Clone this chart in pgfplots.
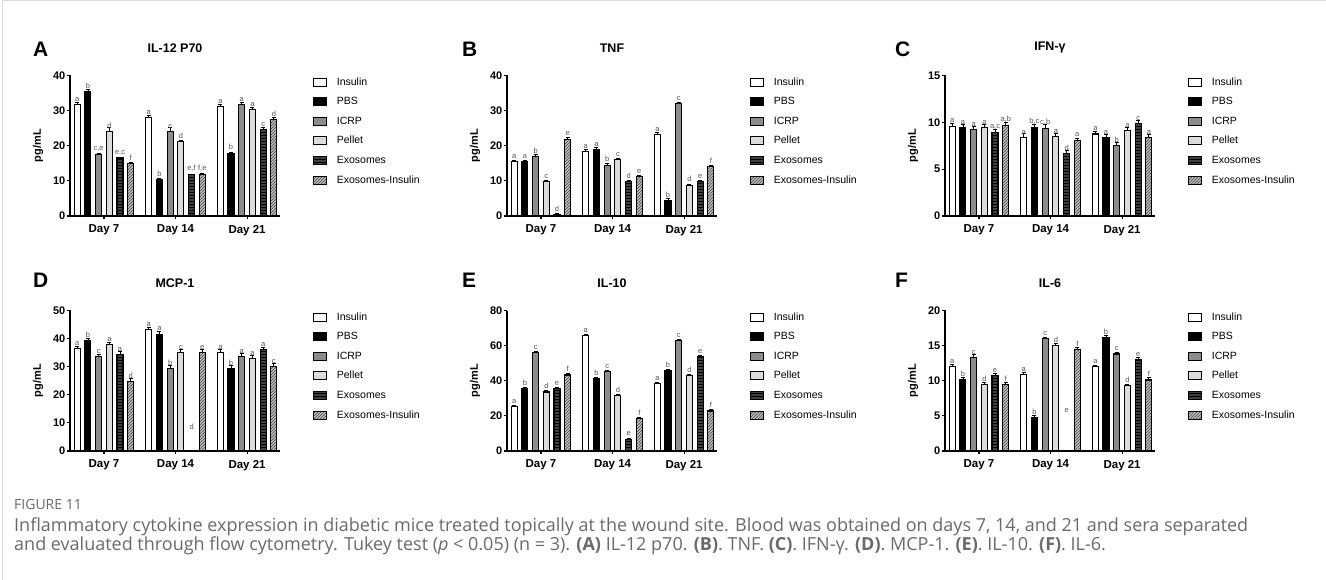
\documentclass[border=0pt]{standalone}
\usepackage{pgfplots}
\pgfplotsset{compat=1.18}
\usepackage{pgfplotstable}
\usepackage{fontspec}
\setmainfont{Liberation Sans}
\newfontfamily\capfont{Open Sans}
\usetikzlibrary{patterns}

\definecolor{icrpgray}{HTML}{8C8C8C}
\definecolor{pelgray}{HTML}{DCDCDC}
\definecolor{exogray}{HTML}{404040}
\definecolor{exigray}{HTML}{BEBEBE}
\definecolor{capgray}{HTML}{6A6A6A}
\definecolor{letgray}{HTML}{555555}

% columns: day, then value / error / letter for each of the six groups
\pgfplotstableread{
x ins insE insL pbs pbsE pbsL icrp icrpE icrpL pel pelE pelL exo exoE exoL exi exiE exiL
0 31.8 0.4 a 35.5 0.6 b 17.5 0.4 c,e 24.0 1.2 d 16.5 0.3 e,c 14.9 0.3 f
1 28.0 0.7 a 10.3 0.4 b 24.0 1.2 c 21.2 0.4 d 11.7 0.2 e,f 11.7 0.3 f,e
2 31.2 0.5 a 17.9 0.3 b 31.8 0.5 a 30.2 0.6 a 24.5 0.6 c 27.5 0.5 d
}\tabA
\pgfplotstableread{
x ins insE insL pbs pbsE pbsL icrp icrpE icrpL pel pelE pelL exo exoE exoL exi exiE exiL
0 15.5 0.4 a 15.5 0.4 a 17.0 0.4 b 9.7 0.4 c 0.5 0.2 d 21.9 0.5 e
1 18.4 0.5 a 18.9 0.5 a 14.5 0.4 b 16.0 0.5 c 9.7 0.3 d 11.2 0.4 e
2 23.3 0.5 a 4.5 0.4 b 31.9 0.5 c 8.8 0.3 d 9.7 0.3 e 14.0 0.4 f
}\tabB
\pgfplotstableread{
x ins insE insL pbs pbsE pbsL icrp icrpE icrpL pel pelE pelL exo exoE exoL exi exiE exiL
0 9.6 0.3 a 9.4 0.35 a 9.2 0.4 a 9.4 0.35 a 8.96 0.3 a,c 9.7 0.3 a,b
1 8.4 0.45 a 9.4 0.4 b,c 9.3 0.45 c,b 8.5 0.3 a 6.65 0.35 d 8.1 0.2 a
2 8.75 0.25 a 8.4 0.3 a 7.5 0.35 b 9.1 0.4 a 9.9 0.35 c 8.4 0.35 a
}\tabC
\pgfplotstableread{
x ins insE insL pbs pbsE pbsL icrp icrpE icrpL pel pelE pelL exo exoE exoL exi exiE exiL
0 36.5 0.7 a 39.2 0.8 b 33.6 0.6 c 38.0 0.6 a 34.4 0.9 a 24.7 1.0 d
1 43.1 1.0 a 41.6 1.1 a 29.3 1.0 b 35.0 1.1 c 0 0 {} 35.0 1.1 e
2 35.0 1.0 a 29.3 1.0 b 33.6 1.1 a 33.0 1.1 a 36.0 0.9 a 30.0 1.0 c
}\tabD
\pgfplotstableread{
x ins insE insL pbs pbsE pbsL icrp icrpE icrpL pel pelE pelL exo exoE exoL exi exiE exiL
0 25.3 0.8 a 35.5 0.7 b 56.1 0.8 c 33.6 0.7 d 35.5 0.7 e 43.3 0.8 f
1 65.6 0.8 a 41.1 0.6 b 45.2 0.8 c 31.4 0.6 d 6.8 0.6 e 18.6 0.6 f
2 38.6 0.7 a 45.8 0.7 b 62.7 0.8 c 43.2 0.6 d 53.8 0.8 e 22.8 0.7 f
}\tabE
\pgfplotstableread{
x ins insE insL pbs pbsE pbsL icrp icrpE icrpL pel pelE pelL exo exoE exoL exi exiE exiL
0 12.0 0.35 a 10.1 0.4 b 13.3 0.4 c 9.5 0.25 d 10.7 0.3 e 9.5 0.25 f
1 10.9 0.25 a 4.8 0.2 b 16.0 0.2 c 15.0 0.25 d 0 0 {} 14.4 0.3 f
2 12.0 0.2 a 16.2 0.3 b 13.8 0.2 c 9.3 0.2 d 13.0 0.35 e 10.1 0.35 f
}\tabF

\pgfplotsset{
  sIns/.style={draw=black, fill=white, bar shift=-26.75pt},
  sPBS/.style={draw=black, fill=black, bar shift=-16.05pt},
  sICRP/.style={draw=black, fill=icrpgray, bar shift=-5.35pt},
  sPel/.style={draw=black, fill=pelgray, bar shift=5.35pt},
  sExo/.style={draw=black, fill=exogray, postaction={pattern=horizontal lines, pattern color=black}, bar shift=16.05pt},
  sExi/.style={draw=black, fill=exigray, postaction={pattern=north east lines, pattern color=gray!55!black}, bar shift=26.75pt},
  panel/.style={
    width=210pt, height=140.5pt, scale only axis,
    anchor=south west,
    ybar, bar width=6pt,
    xmin=-0.475, xmax=2.46, ymin=0, enlargelimits=false,
    axis lines=left, axis line style={-, line width=1.1pt},
    xtick={0,1,2}, xticklabels={Day 7,Day 14,Day 21},
    minor tick num=0,
    tick align=outside, major tick length=3.5pt,
    major tick style={line width=1.1pt, black},
    x tick label style={font=\fontsize{11.5}{12}\selectfont\bfseries, yshift=-2pt},
    y tick label style={font=\fontsize{11}{12}\selectfont\bfseries, inner sep=1pt},
    /pgf/number format/assume math mode=true,
    ylabel={pg/mL},
    ylabel style={font=\fontsize{11}{12}\selectfont\bfseries, at={(axis description cs:-0.152,0.5)}, anchor=center},
    title style={font=\fontsize{12.5}{13}\selectfont\bfseries, at={(axis description cs:0.5,1)}, anchor=center, yshift=21.5pt},
    clip=false,
    point meta=explicit symbolic,
    nodes near coords,
    every node near coord/.append style={font=\fontsize{7.5}{8}\selectfont, text=letgray, inner sep=0.5pt, yshift=2pt},
    error bars/y dir=plus, error bars/y explicit,
    error bars/error bar style={line width=0.8pt, black, solid},
    error bars/error mark options={rotate=90, mark size=2pt, line width=0.8pt, black, solid},
    every axis plot/.append style={line width=1.1pt},
    legend image code/.code={\draw[##1] (0pt,-4pt) rectangle (13pt,4pt);},
    legend cell align=left,
    legend style={at={(1.155,0.99)}, anchor=north west, draw=none, fill=none,
      font=\fontsize{10.5}{11}\selectfont, inner sep=0pt, row sep=9.6pt,
      nodes={inner sep=0pt, text height=8pt, text depth=2pt},
      /tikz/every odd column/.append style={column sep=10pt}},
  },
}

\newcommand\sixbars[1]{%
  \addplot[sIns] table[x=x,y=ins,y error=insE,meta=insL]{#1};
  \addplot[sPBS] table[x=x,y=pbs,y error=pbsE,meta=pbsL]{#1};
  \addplot[sICRP] table[x=x,y=icrp,y error=icrpE,meta=icrpL]{#1};
  \addplot[sPel] table[x=x,y=pel,y error=pelE,meta=pelL]{#1};
  \addplot[sExo] table[x=x,y=exo,y error=exoE,meta=exoL]{#1};
  \addplot[sExi] table[x=x,y=exi,y error=exiE,meta=exiL]{#1};
  \legend{Insulin,PBS,ICRP,Pellet,Exosomes,Exosomes-Insulin}
}

\begin{document}
\begin{tikzpicture}
\path[use as bounding box] (0pt,0pt) rectangle (1326pt,580pt);
\draw[gray!30, line width=1pt] (2.5pt,0pt) -- (2.5pt,579.5pt) -- (1326pt,579.5pt);

% panel letters
\node[anchor=base west, font=\fontsize{21}{21}\selectfont\bfseries, inner sep=0pt] at (33pt,523pt) {A};
\node[anchor=base west, font=\fontsize{21}{21}\selectfont\bfseries, inner sep=0pt] at (462pt,523pt) {B};
\node[anchor=base west, font=\fontsize{21}{21}\selectfont\bfseries, inner sep=0pt] at (895pt,523pt) {C};
\node[anchor=base west, font=\fontsize{21}{21}\selectfont\bfseries, inner sep=0pt] at (33pt,292pt) {D};
\node[anchor=base west, font=\fontsize{21}{21}\selectfont\bfseries, inner sep=0pt] at (462pt,292pt) {E};
\node[anchor=base west, font=\fontsize{21}{21}\selectfont\bfseries, inner sep=0pt] at (895pt,292pt) {F};

\begin{axis}[panel, at={(70pt,364pt)}, title={IL-12 P70}, ymax=40, ytick={0,10,20,30,40}]
\sixbars{\tabA}
\end{axis}

\begin{axis}[panel, at={(507pt,364pt)}, title={TNF}, ymax=40, ytick={0,10,20,30,40}]
\sixbars{\tabB}
\end{axis}

\begin{axis}[panel, at={(945pt,364pt)}, title={IFN-γ}, ymax=15, ytick={0,5,10,15}]
\sixbars{\tabC}
\end{axis}

\begin{axis}[panel, at={(70pt,129pt)}, title={MCP-1}, ymax=50, ytick={0,10,20,30,40,50}]
\sixbars{\tabD}
\node[font=\fontsize{7.5}{8}\selectfont, text=letgray, xshift=16.05pt] at (axis cs:1,8.7) {d};
\end{axis}

\begin{axis}[panel, at={(507pt,129pt)}, title={IL-10}, ymax=80, ytick={0,20,40,60,80}]
\sixbars{\tabE}
\end{axis}

\begin{axis}[panel, at={(945pt,129pt)}, title={IL-6}, ymax=20, ytick={0,5,10,15,20}]
\sixbars{\tabF}
\node[font=\fontsize{7.5}{8}\selectfont, text=letgray, xshift=16.05pt] at (axis cs:1,5.7) {e};
\end{axis}

% caption
\node[anchor=base west, inner sep=0pt, text=capgray, font=\capfont\fontsize{14}{14}\selectfont] at (14pt,70pt) {FIGURE 11};
\node[anchor=base west, inner sep=0pt, text=capgray, font=\capfont\fontsize{18}{19}\selectfont] at (14pt,48pt) {Inflammatory cytokine expression in diabetic mice treated topically at the wound site. Blood was obtained on days 7, 14, and 21 and sera separated};
\node[anchor=base west, inner sep=0pt, text=capgray, font=\capfont\fontsize{18}{19}\selectfont] at (14pt,29pt) {and evaluated through flow cytometry. Tukey test (\textit{p} < 0.05) (n = 3). \textbf{(A)} IL-12 p70. \textbf{(B)}. TNF. \textbf{(C)}. IFN-γ. \textbf{(D)}. MCP-1. \textbf{(E)}. IL-10. \textbf{(F)}. IL-6.};
\end{tikzpicture}
\end{document}
